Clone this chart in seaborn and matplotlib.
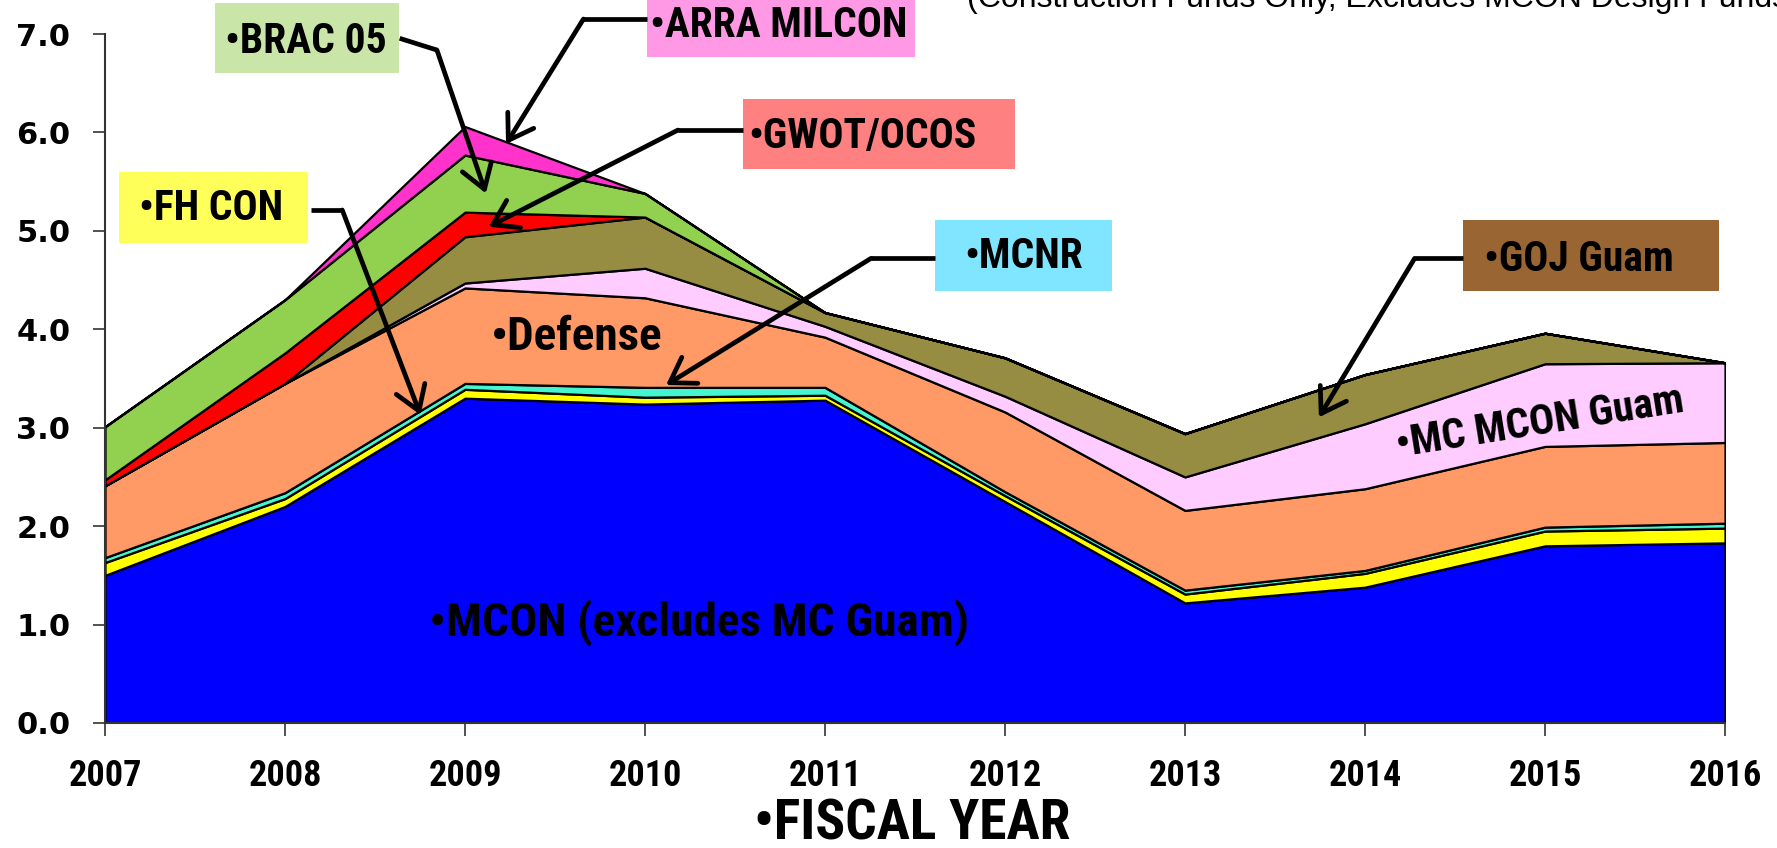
import numpy as np
import matplotlib
matplotlib.use('Agg')
import matplotlib.pyplot as plt
from matplotlib.patches import Rectangle
import seaborn as sns

# Data (billions)
years = [2007, 2008, 2009, 2010, 2011, 2012, 2013, 2014, 2015, 2016]
mcon = [1.50, 2.20, 3.30, 3.24, 3.28, 2.25, 1.22, 1.38, 1.80, 1.83]
fh_con = [0.13, 0.08, 0.09, 0.07, 0.05, 0.06, 0.09, 0.14, 0.15, 0.15]
mcnr = [0.05, 0.06, 0.06, 0.10, 0.08, 0.04, 0.04, 0.03, 0.04, 0.05]
defense = [0.73, 1.11, 0.97, 0.91, 0.51, 0.81, 0.81, 0.83, 0.82, 0.82]
mc_mcon_guam = [0.00, 0.00, 0.05, 0.30, 0.11, 0.16, 0.34, 0.66, 0.84, 0.81]
goj_guam = [0.00, 0.00, 0.47, 0.52, 0.14, 0.39, 0.44, 0.50, 0.31, 0.00]
gwot_ocos = [0.06, 0.31, 0.25, 0.00, 0.00, 0.00, 0.00, 0.00, 0.00, 0.00]
brac_05 = [0.54, 0.54, 0.58, 0.24, 0.00, 0.00, 0.00, 0.00, 0.00, 0.00]
arra_milcon = [0.00, 0.00, 0.29, 0.00, 0.00, 0.00, 0.00, 0.00, 0.00, 0.00]

layer_colors = ['#0000FF', '#FFFF00', '#44F5D0', '#FF9966', '#FFCCFF',
                '#968C42', '#FF0000', '#92D050', '#FF33CC']

ytick_vals = [0, 1, 2, 3, 4, 5, 6, 7]
ytick_labels = ['0.0', '1.0', '2.0', '3.0', '4.0', '5.0', '6.0', '7.0']

sns.set_style('white')
NARROW = ['Roboto Condensed', 'DejaVu Sans']
plt.rcParams['font.family'] = ['Liberation Sans', 'DejaVu Sans']
plt.rcParams['text.color'] = 'black'
plt.rcParams['xtick.color'] = 'black'
plt.rcParams['ytick.color'] = 'black'

fig = plt.figure(figsize=(17.77, 8.48), dpi=100)
ax = fig.add_axes([105 / 1777, 125 / 848, 1620 / 1777, 689 / 848])

ax.stackplot(years, mcon, fh_con, mcnr, defense, mc_mcon_guam, goj_guam,
             gwot_ocos, brac_05, arra_milcon,
             colors=layer_colors, edgecolor='black', linewidth=1.6)

ax.set_xlim(2007, 2016)
ax.set_ylim(0, 7)
ax.set_xticks(years)
ax.set_xticklabels([str(y) for y in years], family=NARROW,
                   fontweight='bold', fontsize=26)
ax.set_yticks(ytick_vals)
ax.set_yticklabels(ytick_labels, family='DejaVu Sans',
                   fontweight='bold', fontsize=22)
ax.tick_params(axis='x', bottom=True, direction='out', length=9,
               width=1.2, color='#333333', labelcolor='black', pad=16)
ax.tick_params(axis='y', left=True, direction='out', length=9,
               width=1.2, color='#333333', labelcolor='black', pad=16)
sns.despine(ax=ax)
for side in ['left', 'bottom']:
    ax.spines[side].set_color('#333333')
    ax.spines[side].set_linewidth(1.5)

# labels inside areas
ax.text(2009.144, 3.79, '•Defense', family=NARROW, fontweight='bold',
        fontsize=34, ha='left', va='baseline')
ax.text(2008.798, 0.884, '•MCON (excludes MC Guam)', family=NARROW,
        fontweight='bold', fontsize=34, ha='left', va='baseline')
ax.text(2014.183, 2.70, '•MC MCON Guam', family=NARROW, fontweight='bold',
        fontsize=30, ha='left', va='baseline', rotation=9,
        rotation_mode='anchor')

# callout boxes: (text, x0, x1, y0, y1, colour, text x, text y, ha)
callouts = [
    ('•BRAC 05', 2007.611, 2008.631, 6.600, 7.311, '#C9E6A8', 2008.117, 6.92, 'center'),
    ('•ARRA MILCON', 2010.011, 2011.500, 6.763, 7.345, '#FF99E6', 2010.742, 7.09, 'center'),
    ('•GWOT/OCOS', 2010.544, 2012.053, 5.625, 6.340, '#FF8080', 2011.206, 5.957, 'center'),
    ('•FH CON', 2007.078, 2008.128, 4.880, 5.598, '#FFFF5A', 2007.589, 5.232, 'center'),
    ('•MCNR', 2011.611, 2012.597, 4.392, 5.110, '#80E6FF', 2012.106, 4.737, 'center'),
    ('•GOJ Guam', 2014.544, 2015.967, 4.392, 5.110, '#996633', 2014.659, 4.714, 'left'),
]
for label, x0, x1, y0, y1, col, tx, ty, ha in callouts:
    ax.add_patch(Rectangle((x0, y0), x1 - x0, y1 - y0, facecolor=col,
                           edgecolor='none', clip_on=False, zorder=5))
    ax.text(tx, ty, label, family=NARROW, fontweight='bold', fontsize=30,
            ha=ha, va='center', zorder=6, clip_on=False)

# arrows: start at box, elbow, head
arrows = [
    ((2008.637, 6.956), (2008.844, 6.837), (2009.116, 5.381)),
    ((2010.011, 7.152), (2009.658, 7.152), (2009.228, 5.882)),
    ((2010.544, 6.024), (2010.183, 6.024), (2009.132, 5.042)),
    ((2008.143, 5.212), (2008.318, 5.212), (2008.753, 3.129)),
    ((2011.610, 4.721), (2011.256, 4.721), (2010.117, 3.434)),
    ((2014.544, 4.721), (2014.276, 4.721), (2013.744, 3.106)),
]
for start, elbow, head in arrows:
    ax.plot([start[0], elbow[0]], [start[1], elbow[1]], color='black',
            lw=3.4, solid_capstyle='butt', clip_on=False, zorder=7)
    ax.annotate('', xy=head, xytext=elbow, annotation_clip=False,
                arrowprops=dict(arrowstyle='->,head_length=0.85,head_width=0.55',
                                mutation_scale=20, lw=3.4, color='black',
                                shrinkA=0, shrinkB=0),
                zorder=7)

fig.text(912 / 1777, 9 / 848, '•FISCAL YEAR', family=NARROW,
         fontweight='bold', fontsize=40, ha='center', va='baseline')
fig.text(967 / 1777, 1 - 7 / 848,
         '(Construction Funds Only, Excludes MCON Design Funds)',
         fontsize=23, ha='left', va='baseline')

fig.savefig('out.png', dpi=100)
